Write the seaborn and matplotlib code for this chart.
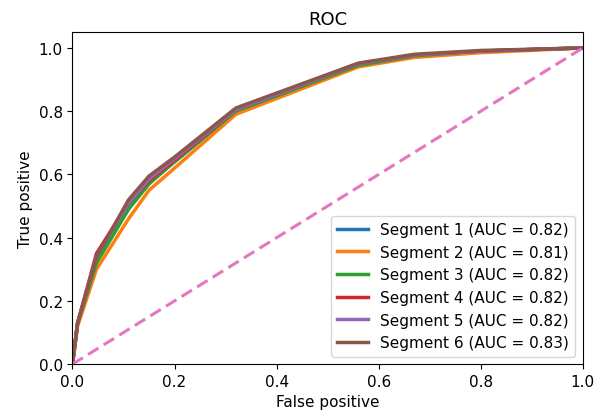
import matplotlib
matplotlib.use("Agg")
import matplotlib.pyplot as plt
import seaborn as sns
import pandas as pd

fpr = [0, 0.01, 0.047, 0.11, 0.15, 0.2, 0.32, 0.56, 0.67, 0.8, 1.0]
seg1 = [0, 0.13, 0.33, 0.50, 0.58, 0.64, 0.80, 0.945, 0.975, 0.99, 1.0]
seg2 = [0, 0.12, 0.30, 0.46, 0.55, 0.62, 0.79, 0.94, 0.97, 0.985, 1.0]
seg3 = [0, 0.13, 0.32, 0.49, 0.57, 0.64, 0.80, 0.945, 0.975, 0.99, 1.0]
seg4 = [0, 0.13, 0.35, 0.51, 0.58, 0.645, 0.805, 0.95, 0.978, 0.99, 1.0]
seg5 = [0, 0.13, 0.34, 0.51, 0.585, 0.65, 0.805, 0.95, 0.978, 0.99, 1.0]
seg6 = [0, 0.13, 0.34, 0.52, 0.595, 0.655, 0.81, 0.952, 0.98, 0.992, 1.0]
labels = ["Segment 1 (AUC = 0.82)", "Segment 2 (AUC = 0.81)", "Segment 3 (AUC = 0.82)",
          "Segment 4 (AUC = 0.82)", "Segment 5 (AUC = 0.82)", "Segment 6 (AUC = 0.83)"]
diag = [0.0, 1.0]
ticks = [0, 0.2, 0.4, 0.6, 0.8, 1.0]

rows = []
for lab, tpr in zip(labels, [seg1, seg2, seg3, seg4, seg5, seg6]):
    for x, y in zip(fpr, tpr):
        rows.append({"fpr": x, "tpr": y, "seg": lab})
df = pd.DataFrame(rows)

plt.rcParams["font.size"] = 11
fig = plt.figure(figsize=(6.04, 4.14), dpi=100)
ax = fig.add_axes([0.120, 0.118, 0.845, 0.802])
sns.lineplot(data=df, x="fpr", y="tpr", hue="seg", palette=sns.color_palette("tab10", 6),
             sort=False, estimator=None, lw=2.5, ax=ax)
ax.plot(diag, diag, color="#e377c2", lw=2.2, linestyle=(0, (4, 2)))
ax.set_xlim(0, 1.0)
ax.set_ylim(0, 1.05)
ax.set_xticks(ticks)
ax.set_yticks(ticks)
ax.tick_params(labelsize=11)
ax.set_xlabel("False positive", fontsize=11)
ax.set_ylabel("True positive", fontsize=11)
ax.set_title("ROC", fontsize=13)
ax.legend(loc="lower right", title=None, fontsize=11)
fig.savefig("out.png", dpi=100)
